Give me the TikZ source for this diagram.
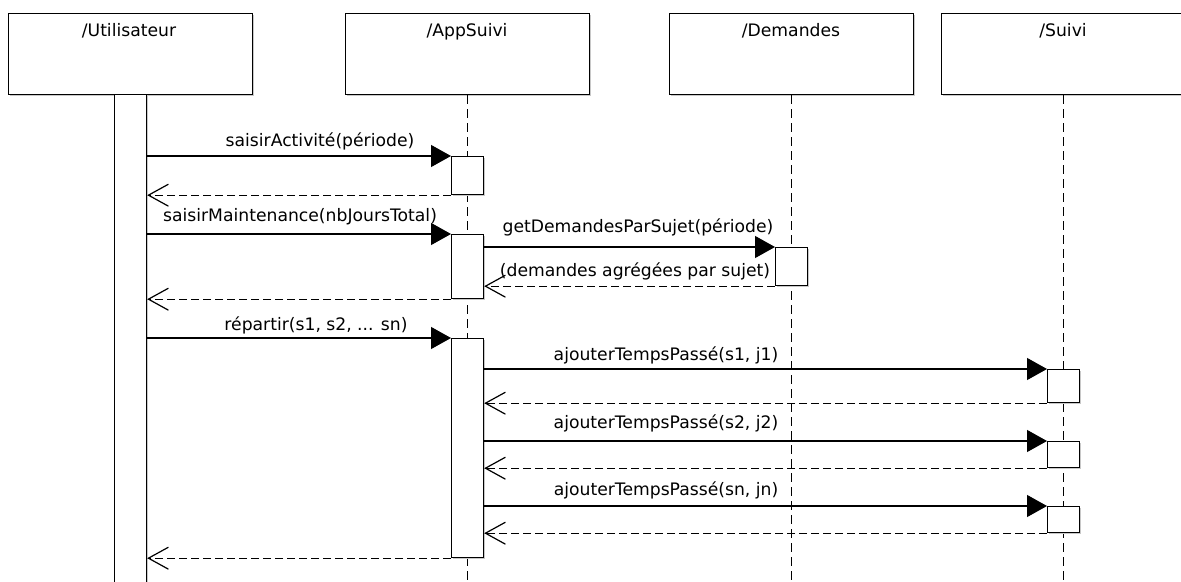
\documentclass[tikz,border=0pt]{standalone}
\usepackage{fontspec}
\setmainfont{DejaVu Sans}
\usetikzlibrary{arrows.meta,shadows}

\begin{document}
\begin{tikzpicture}[x=0.5pt,y=-0.5pt,line width=0.6pt,
    tete/.style={draw,fill=white,anchor=north west,inner sep=0pt,
        minimum width=122pt,minimum height=40.5pt,
        drop shadow={shadow xshift=0.8pt,shadow yshift=-0.8pt,fill=ombre,opacity=1}},
    barre/.style={draw,fill=white,anchor=north west,inner sep=0pt,minimum width=16pt,
        drop shadow={shadow xshift=0.8pt,shadow yshift=-0.8pt,fill=ombre,opacity=1}},
    nom/.style={anchor=north,inner sep=0pt,font=\fontsize{8.6}{10}\selectfont},
    msgtxt/.style={anchor=base,inner sep=0pt,font=\fontsize{8.6}{10}\selectfont},
    vie/.style={dash pattern=on 4.5pt off 2.5pt},
    appel/.style={-{Triangle[length=10pt,width=11pt]}},
    retour/.style={dash pattern=on 4pt off 2pt,-{Straight Barb[length=10pt,width=11pt]}}]

\definecolor{ombre}{RGB}{200,200,200}

    \useasboundingbox (0,0) rectangle (1181,582);
    \clip (0,0) rectangle (1181,582);
    \coordinate (bas) at (0,600);

    %Lignes de vie
    \node[tete] (utilisateur) at (8,13) {};
    \node[tete] (appsuivi) at (345,13) {};
    \node[tete] (demandes) at (669,13) {};
    \node[tete] (suivi) at (941,13) {};
    \draw[vie] (appsuivi.south) -- (appsuivi.south |- bas);
    \draw[vie] (demandes.south) -- (demandes.south |- bas);
    \draw[vie] (suivi.south) -- (suivi.south |- bas);

    %Noms
    \node[nom] (tutilisateur) at (129,23) {/Utilisateur};
    \node[nom] (tappsuivi) at (467,23) {/AppSuivi};
    \node[nom] (tdemandes) at (791,23) {/Demandes};
    \node[nom] (tsuivi) at (1063,23) {/Suivi};

    %Barres d'activation
    \node[barre,minimum height=253pt] (ub) at (114,94) {};
    \node[barre,minimum height=19pt] (a1) at (451,156) {};
    \node[barre,minimum height=32pt] (a2) at (451,234) {};
    \node[barre,minimum height=109.5pt] (a3) at (451,338) {};
    \node[barre,minimum height=19pt] (d1) at (775,247) {};
    \node[barre,minimum height=16.5pt] (s1) at (1047,369) {};
    \node[barre,minimum height=13pt] (s2) at (1047,441) {};
    \node[barre,minimum height=13pt] (s3) at (1047,506) {};

    %Messages
    \draw[appel] (ub.east |- a1.north) -- (a1.north west);
    \draw[retour] (a1.south west) -- (ub.east |- a1.south);
    \draw[appel] (ub.east |- a2.north) -- (a2.north west);
    \draw[appel] (a2.east |- d1.north) -- (d1.north west);
    \draw[retour] (d1.south west) -- (a2.east |- d1.south);
    \draw[retour] (a2.south west) -- (ub.east |- a2.south);
    \draw[appel] (ub.east |- a3.north) -- (a3.north west);
    \draw[appel] (a3.east |- s1.north) -- (s1.north west);
    \draw[retour] (s1.south west) -- (a3.east |- s1.south);
    \draw[appel] (a3.east |- s2.north) -- (s2.north west);
    \draw[retour] (s2.south west) -- (a3.east |- s2.south);
    \draw[appel] (a3.east |- s3.north) -- (s3.north west);
    \draw[retour] (s3.south west) -- (a3.east |- s3.south);
    \draw[retour] (a3.south west) -- (ub.east |- a3.south);

    %Labels
    \node[msgtxt] (m1) at (320,147) {saisirActivité(période)};
    \node[msgtxt] (m2) at (300,222) {saisirMaintenance(nbJoursTotal)};
    \node[msgtxt] (m3) at (638,233) {getDemandesParSujet(période)};
    \node[msgtxt] (m4) at (635,277) {(demandes agrégées par sujet)};
    \node[msgtxt] (m5) at (316,330) {répartir(s1, s2, ... sn)};
    \node[msgtxt] (m6) at (666,360) {ajouterTempsPassé(s1, j1)};
    \node[msgtxt] (m7) at (666,428) {ajouterTempsPassé(s2, j2)};
    \node[msgtxt] (m8) at (666,495) {ajouterTempsPassé(sn, jn)};

\end{tikzpicture}
\end{document}
